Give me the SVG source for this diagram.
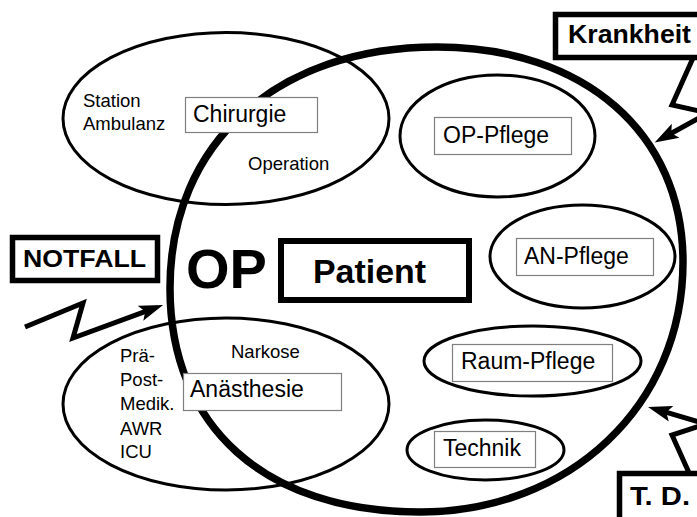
<svg xmlns="http://www.w3.org/2000/svg" width="697" height="517" viewBox="0 0 697 517">
<style>
.thin{fill:none;stroke:#000;stroke-width:3}
.box{fill:#fff;stroke:#7f7f7f;stroke-width:1.2}
.lbl{font-family:"Liberation Sans",Arial,sans-serif;font-size:23px;fill:#000}
.sm{font-family:"Liberation Sans",Arial,sans-serif;font-size:18.5px;fill:#000}
.big{fill:#fff;stroke:#000;stroke-width:5.5}
.bold{font-family:"Liberation Sans",Arial,sans-serif;font-weight:bold;fill:#000}
.bolt{fill:none;stroke:#000;stroke-width:5;stroke-linejoin:miter;stroke-miterlimit:10}
</style>
<defs>
<marker id="ah" markerUnits="userSpaceOnUse" markerWidth="26" markerHeight="18" refX="9" refY="9" orient="auto">
<path d="M0,1 L24,9 L0,17 L5,9 Z" fill="#000"/>
</marker>
</defs>
<rect width="697" height="517" fill="#fff"/>
<g id="op">
<path d="M437,47 C584,47 683,133 683,262 C683,405 570,512 420,512 C265,512 170,427 170,288 C170,143 277,47 437,47 Z" fill="none" stroke="#000" stroke-width="7.5"/>
<text class="bold" x="186" y="288" font-size="56">OP</text>
</g>
<g id="chirurgie">
<ellipse class="thin" cx="226" cy="118.5" rx="163" ry="86"/>
<rect class="box" x="185.5" y="97.5" width="132" height="35"/>
<text class="lbl" x="193" y="122">Chirurgie</text>
<text class="sm" x="83" y="107">Station</text>
<text class="sm" x="83" y="130">Ambulanz</text>
<text class="sm" x="248" y="170">Operation</text>
</g>
<g id="anaesthesie">
<ellipse class="thin" cx="226" cy="404" rx="163" ry="86"/>
<rect class="box" x="183.5" y="373.5" width="158" height="37"/>
<text class="lbl" x="190" y="397">Anästhesie</text>
<text class="sm" x="231" y="358">Narkose</text>
<text class="sm" x="120" y="362">Prä-</text>
<text class="sm" x="120" y="386">Post-</text>
<text class="sm" x="120" y="410">Medik.</text>
<text class="sm" x="120" y="435">AWR</text>
<text class="sm" x="120" y="458">ICU</text>
</g>
<g id="op-pflege">
<ellipse class="thin" cx="497.5" cy="136" rx="97.5" ry="61"/>
<rect class="box" x="434.5" y="117.5" width="137" height="37"/>
<text class="lbl" x="443" y="143">OP-Pflege</text>
</g>
<g id="an-pflege">
<ellipse class="thin" cx="582.5" cy="256.5" rx="92.5" ry="51.5"/>
<rect class="box" x="516.5" y="238.5" width="137" height="37"/>
<text class="lbl" x="524" y="264">AN-Pflege</text>
</g>
<g id="raum-pflege">
<ellipse class="thin" cx="532.5" cy="361" rx="108.5" ry="35"/>
<rect class="box" x="452.5" y="344.5" width="160" height="37"/>
<text class="lbl" x="461" y="369">Raum-Pflege</text>
</g>
<g id="technik">
<ellipse class="thin" cx="485.5" cy="450" rx="78.5" ry="30"/>
<rect class="box" x="434.5" y="431.5" width="101" height="36"/>
<text class="lbl" x="443" y="456">Technik</text>
</g>
<g id="patient">
<rect x="281" y="241" width="188" height="59" fill="#fff" stroke="#000" stroke-width="6"/>
<text class="bold" x="313" y="283" font-size="33" textLength="113" lengthAdjust="spacingAndGlyphs">Patient</text>
</g>
<g id="notfall">
<rect class="big" x="12.5" y="237.5" width="145" height="43"/>
<text class="bold" x="23" y="267" font-size="23" textLength="123" lengthAdjust="spacingAndGlyphs">NOTFALL</text>
</g>
<g id="krankheit">
<rect class="big" x="555.5" y="14.5" width="160" height="43"/>
<text class="bold" x="568" y="43" font-size="25" textLength="123" lengthAdjust="spacingAndGlyphs">Krankheit</text>
</g>
<g id="td">
<rect class="big" x="619.5" y="473.5" width="100" height="60"/>
<text class="bold" x="630" y="505" font-size="26" textLength="60" lengthAdjust="spacingAndGlyphs">T. D.</text>
</g>
<g id="connectors">
<polyline class="bolt" points="25,327 83,303 73,338 149,310.2" marker-end="url(#ah)"/>
<polyline class="bolt" points="693,58 672,105 708,113 667.8,135.2" marker-end="url(#ah)"/>
<polyline class="bolt" points="690,475 672,435 706,424 662.4,411.2" marker-end="url(#ah)"/>
</g>
</svg>
